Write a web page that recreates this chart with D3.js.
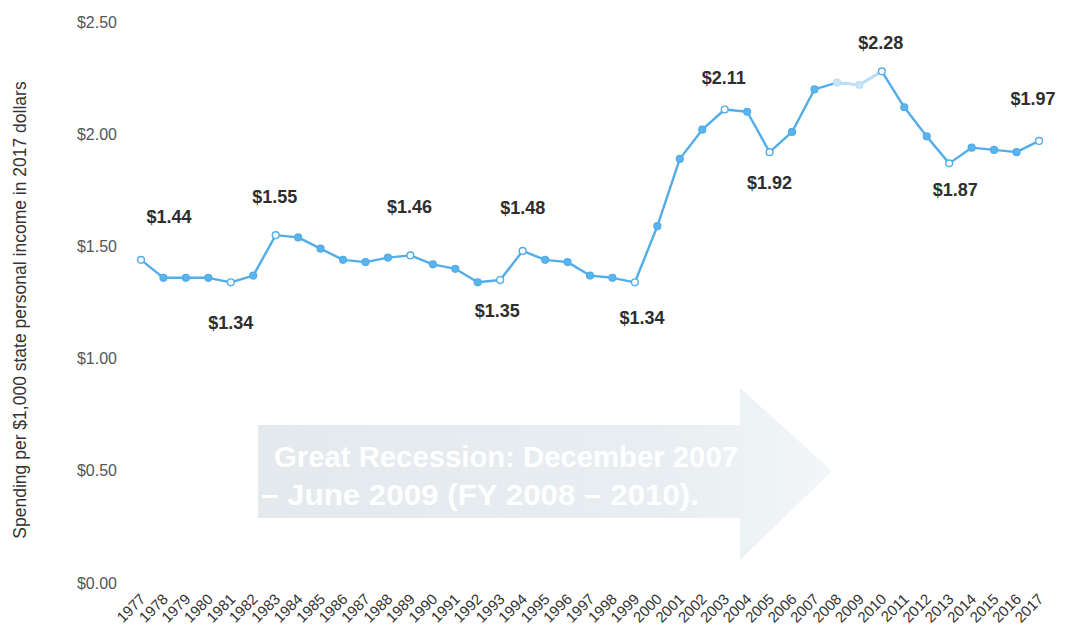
<!DOCTYPE html>
<html>
<head>
<meta charset="utf-8">
<script src="https://cdn.jsdelivr.net/npm/d3@7"></script>
<style>
  html, body { margin: 0; padding: 0; background: #fff; }
  svg { display: block; font-family: "Liberation Sans", Arial, Helvetica, sans-serif; }
</style>
</head>
<body>
<svg id="chart" width="1071" height="634"></svg>
<script>
// ---- data ----
const years = [1977,1978,1979,1980,1981,1982,1983,1984,1985,1986,1987,1988,1989,1990,1991,1992,1993,1994,1995,1996,1997,1998,1999,2000,2001,2002,2003,2004,2005,2006,2007,2008,2009,2010,2011,2012,2013,2014,2015,2016,2017];
const spending = [1.44,1.36,1.36,1.36,1.34,1.37,1.55,1.54,1.49,1.44,1.43,1.45,1.46,1.42,1.40,1.34,1.35,1.48,1.44,1.43,1.37,1.36,1.34,1.59,1.89,2.02,2.11,2.10,1.92,2.01,2.20,2.23,2.22,2.28,2.12,1.99,1.87,1.94,1.93,1.92,1.97];
const labeledYears = [1977,1981,1983,1989,1993,1994,1999,2003,2005,2010,2013,2017];
const yTicks = [0, 0.5, 1.0, 1.5, 2.0, 2.5];
const yAxisTitle = "Spending per $1,000 state personal income in 2017 dollars";
const arrowText = ["Great Recession: December 2007", "\u2013 June 2009 (FY 2008 \u2013 2010)."];

// label placement (styling, dx/dy from point)
const labelOffset = {1977:[28,-42],1981:[0,42],1983:[-1,-37],1989:[-1,-47],1993:[-3,32],1994:[0,-42],1999:[7,37],2003:[-1,-30],2005:[0,32],2010:[-1,-27],2013:[6,28],2017:[-6,-41]};

const FONT = "Liberation Sans, Arial, sans-serif";
const svg = d3.select("#chart");
const x = d3.scalePoint().domain(years).range([141, 1039]);
const y = d3.scaleLinear().domain([0, 2.5]).range([583, 22]);

// ---- arrow annotation ----
const defs = svg.append("defs");
const grad = defs.append("linearGradient").attr("id","arrGrad").attr("x1","0").attr("x2","1").attr("y1","0").attr("y2","0");
grad.append("stop").attr("offset","0%").attr("stop-color","#e3e9ed");
grad.append("stop").attr("offset","70%").attr("stop-color","#e8eef1");
grad.append("stop").attr("offset","100%").attr("stop-color","#f2f6f8");
const ax0 = 258, ax1 = 740, axTip = 832, bTop = 425, bBot = 518, hTop = 388, hBot = 560, mid = 471;
svg.append("path")
  .attr("d", `M${ax0},${bTop} L${ax1},${bTop} L${ax1},${hTop} L${axTip},${mid} L${ax1},${hBot} L${ax1},${bBot} L${ax0},${bBot} Z`)
  .attr("fill", "url(#arrGrad)");
svg.append("g").selectAll("text").data(arrowText).join("text")
  .attr("x", (d,i) => i === 0 ? 274 : 261)
  .attr("y", (d,i) => 467 + i*38)
  .attr("fill", "#ffffff")
  .attr("font-size", 29)
  .attr("font-weight", "bold")
  .attr("textLength", (d,i) => i === 0 ? 464 : 438)
  .attr("lengthAdjust", "spacingAndGlyphs")
  .text(d => d);

// ---- y axis ----
const yAxis = svg.append("g").attr("transform","translate(124,0)")
  .call(d3.axisLeft(y).tickValues(yTicks).tickSize(0).tickPadding(7).tickFormat(d => "$" + d.toFixed(2)));
yAxis.select(".domain").remove();
yAxis.selectAll("text").attr("font-size", 16).attr("fill", "#555").attr("font-family", FONT);

svg.append("text")
  .attr("transform", "translate(26,310) rotate(-90)")
  .attr("text-anchor", "middle")
  .attr("font-size", 17.5)
  .attr("fill", "#333")
  .attr("font-family", FONT)
  .text(yAxisTitle);

// ---- x axis ----
const xAxis = svg.append("g").attr("transform","translate(0,583)")
  .call(d3.axisBottom(x).tickSize(0).tickPadding(0));
xAxis.select(".domain").remove();
xAxis.selectAll("text")
  .attr("font-size", 15)
  .attr("fill", "#333")
  .attr("font-family", FONT)
  .attr("text-anchor", "end")
  .attr("dy", "0")
  .attr("transform", "translate(5,17) rotate(-45)");

// ---- line ----
const pts = years.map((yr,i) => ({year: yr, v: spending[i]}));
const line = d3.line().x(d => x(d.year)).y(d => y(d.v));
svg.append("path").datum(pts)
  .attr("d", line)
  .attr("fill","none")
  .attr("stroke","#52ade8")
  .attr("stroke-width", 2.4)
  .attr("stroke-linejoin","round");
// faded segment 2008-2010
svg.append("path").datum(pts.filter(d => d.year >= 2008 && d.year <= 2010))
  .attr("d", line)
  .attr("fill","none")
  .attr("stroke","#bde0f6")
  .attr("stroke-width", 2.6);

svg.append("g").selectAll("circle").data(pts).join("circle")
  .attr("cx", d => x(d.year))
  .attr("cy", d => y(d.v))
  .attr("r", 3.4)
  .attr("fill", d => labeledYears.includes(d.year) ? "#ffffff" : (d.year === 2008 || d.year === 2009 ? "#c9e6f8" : "#5ab4ee"))
  .attr("stroke", d => (d.year === 2008 || d.year === 2009) ? "#bde0f6" : "#52ade8")
  .attr("stroke-width", 1.4);

// ---- data labels ----
svg.append("g").selectAll("text").data(pts.filter(d => labeledYears.includes(d.year))).join("text")
  .attr("x", d => x(d.year) + labelOffset[d.year][0])
  .attr("y", d => y(d.v) + labelOffset[d.year][1])
  .attr("text-anchor","middle")
  .attr("dominant-baseline","middle")
  .attr("font-size", 18)
  .attr("font-weight","bold")
  .attr("font-family", FONT)
  .attr("fill","#2e2e2e")
  .text(d => "$" + d.v.toFixed(2));
</script>
</body>
</html>
